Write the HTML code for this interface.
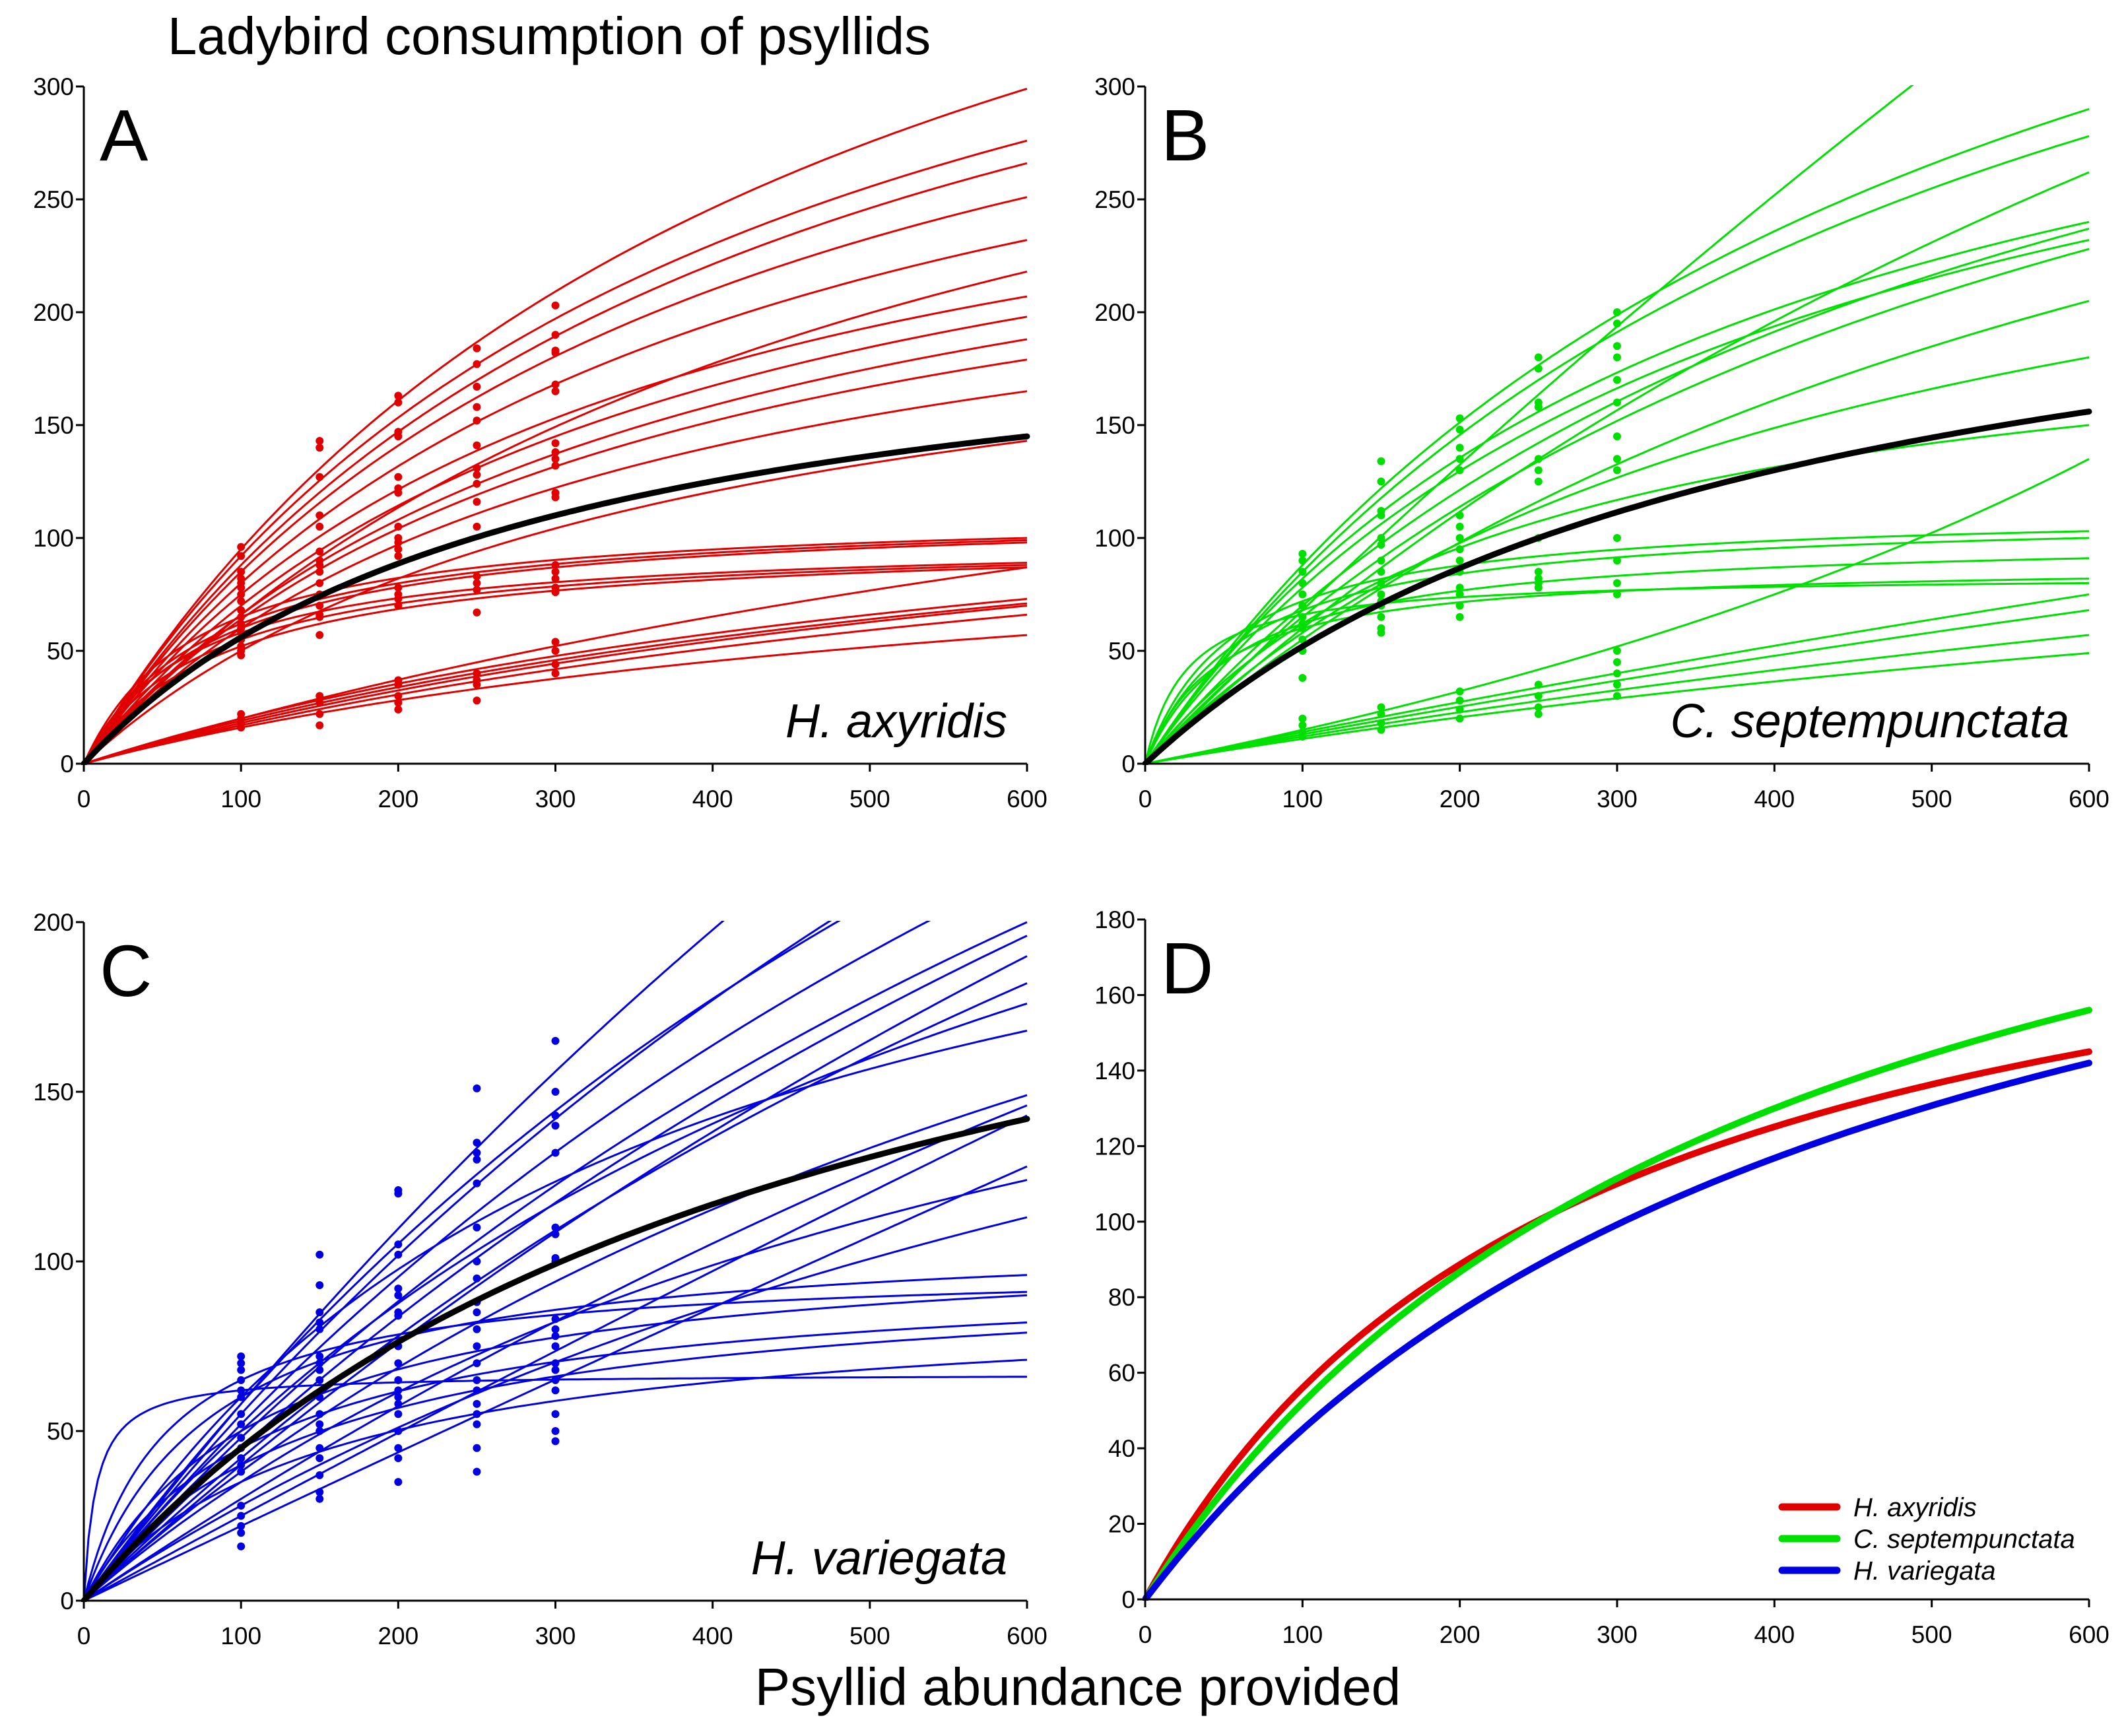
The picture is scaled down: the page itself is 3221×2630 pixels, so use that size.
<!DOCTYPE html>
<html><head><meta charset="utf-8"><style>
html,body{margin:0;padding:0;background:#fff}
svg{display:block}
text{font-family:"Liberation Sans",Arial,sans-serif;fill:#000}
</style></head><body>
<svg id="fig" width="3221" height="2630" viewBox="0 0 3221 2630" xmlns="http://www.w3.org/2000/svg">
<rect width="3221" height="2630" fill="#fff"/>
<text x="832" y="82" font-size="80" text-anchor="middle">Ladybird consumption of psyllids</text>
<text x="1633" y="2583" font-size="80" text-anchor="middle">Psyllid abundance provided</text>
</svg>
<script>
// Curves given as [consumption at 100, consumption at 600]
const curvesA = [[95,299],[92,276],[88,266],[85,251],[80,232],[66,218],[75,207],[70,198],[66,188],[64,179],[60,165],[50,143],[65,100],[62,99],[60,98],[58,89],[55,88],[52,87],[20,87],[20,73],[19,71],[18,70],[17,66],[16,57]];
const meanA = [56,145];
const curvesB = [[68,360],[88,290],[85,278],[60,262],[82,240],[70,237],[78,232],[65,228],[55,205],[58,180],[62,150],[15,135],[72,103],[68,100],[62,91],[60,82],[66,80],[14,75],[13,68],[12,57],[11,49]];
const meanB = [52,156];
const curvesC = [[58,270],[55,235],[58,230],[52,215],[48,200],[45,196],[40,190],[42,182],[50,176],[60,168],[38,149],[30,146],[25,143],[22,128],[35,124],[28,113],[60,96],[65,91],[50,90],[45,82],[40,79],[35,71],[62,66]];
const meanC = [45,142];
const dotX = [100,150,200,250,300];
const dotsA = [
 [96,92,85,82,80,78,75,72,68,65,62,60,58,55,52,50,48,22,20,18,16],
 [143,140,127,110,105,94,90,88,85,80,75,70,66,65,57,30,27,22,17],
 [163,160,147,145,127,122,120,105,100,98,95,92,78,75,73,70,37,35,30,27,24],
 [184,177,167,158,152,141,131,128,124,116,105,83,80,77,67,40,37,35,28],
 [203,190,183,182,168,165,142,138,135,132,120,118,88,85,82,78,76,54,50,44,40]];
const dotsB = [
 [93,90,85,80,75,70,65,62,60,55,50,38,20,17,14,12],
 [134,125,112,110,100,97,90,85,80,75,72,70,65,60,58,25,22,18,15],
 [153,148,140,135,130,110,105,100,95,90,85,78,75,70,65,32,28,24,20],
 [180,175,160,158,135,130,125,100,85,82,80,78,35,30,25,22],
 [200,195,185,180,170,160,145,135,130,100,90,80,75,50,45,40,35,30]];
const dotsC = [
 [72,70,68,65,62,60,55,52,48,45,42,40,38,28,25,22,20,16],
 [102,93,85,82,80,72,70,68,65,60,55,52,50,45,42,37,32,30],
 [121,120,105,102,92,90,85,84,75,70,65,62,60,58,55,50,45,42,35],
 [151,135,132,130,123,110,100,95,88,85,80,75,70,65,62,58,55,52,45,38],
 [165,150,143,140,132,110,108,101,100,83,80,78,75,70,68,65,62,55,50,47]];
const meansD = [[56,145],[52,156],[45,142]];
const legendLabels = ["H. axyridis","C. septempunctata","H. variegata"];
const xTicks = [0,100,200,300,400,500,600];
const yTicksA = [0,50,100,150,200,250,300];
const yTicksC = [0,50,100,150,200];
const yTicksD = [0,20,40,60,80,100,120,140,160,180];

const NS="http://www.w3.org/2000/svg";
const svg=document.getElementById('fig');
function mk(tag,attrs,parent){const e=document.createElementNS(NS,tag);for(const k in attrs)e.setAttribute(k,attrs[k]);(parent||svg).appendChild(e);return e;}

function holling(p){ // returns function x->y through (100,p0),(600,p1)
  const inv=(1/p[0]-1/p[1])/(1/100-1/600); const h=1/p[0]-inv/100;
  return x=> x/(inv+h*x);
}

function panel(id,x0,x1,yb,yt,ymax,yTicks,letter,species,color,curves,mean,dots){
  const g=mk('g',{});
  
  
  const sx=v=>x0+(x1-x0)*v/600, sy=v=>yb-(yb-yt)*v/ymax;
  const cp=mk('clipPath',{id:'clip'+id},g);
  mk('rect',{x:x0-4,y:yt-2,width:x1-x0+10,height:yb-yt+4},cp);
  const plot=mk('g',{'clip-path':'url(#clip'+id+')'},g);
  function curvePath(f){let d='';for(let x=0;x<=600;x+=3){d+=(x?'L':'M')+sx(x).toFixed(1)+' '+sy(f(x)).toFixed(1);}return d;}
  if(dots){dots.forEach((arr,i)=>arr.forEach(v=>{
    const c=mk('circle',{cx:sx(dotX[i]),cy:sy(v),r:6,fill:color},plot);
    
    
  }));}
  if(curves){curves.forEach(p=>{
    const e=mk('path',{d:curvePath(holling(p)),fill:'none',stroke:color,'stroke-width':3},plot);
    
    
  });}
  if(mean){
    const e=mk('path',{d:curvePath(holling(mean)),fill:'none',stroke:'#000','stroke-width':9,'stroke-linecap':'round'},plot);
    
    
  }
  if(id==='D'){
    const cols=['#e00000','#00e000','#0000e0'];
    meansD.forEach((p,i)=>{
      const e=mk('path',{d:curvePath(holling(p)),fill:'none',stroke:cols[i],'stroke-width':10,'stroke-linecap':'round'},plot);
      
      
      const l=mk('line',{x1:2700,x2:2783,y1:2283+i*48,y2:2283+i*48,stroke:cols[i],'stroke-width':11,'stroke-linecap':'round'});
      
      
      const t=mk('text',{x:2808,y:2297+i*48,'font-size':40,'font-style':'italic'});
      t.textContent=legendLabels[i];
      
      
    });
  }
  // axes
  const ax=mk('path',{d:`M${x0} ${yt}V${yb}H${x1}`,fill:'none',stroke:'#000','stroke-width':3},g);
  
  
  xTicks.forEach(v=>{
    mk('line',{x1:sx(v),x2:sx(v),y1:yb,y2:yb+12,stroke:'#000','stroke-width':3},g);
    const t=mk('text',{x:sx(v),y:yb+66,'font-size':37,'text-anchor':'middle'},g);
    t.textContent=v;
    
    
  });
  yTicks.forEach(v=>{
    mk('line',{x1:x0-12,x2:x0,y1:sy(v),y2:sy(v),stroke:'#000','stroke-width':3},g);
    const t=mk('text',{x:x0-15,y:sy(v)+13,'font-size':37,'text-anchor':'end'},g);
    t.textContent=v;
    
    
  });
  const L=mk('text',{x:x0+24,y:yt+112,'font-size':110},g);
  L.textContent=letter;
  
  
  if(species){
    const s=mk('text',{x:x1-30,y:yb-40,'font-size':72,'font-style':'italic','text-anchor':'end'},g);
    s.textContent=species;
    
    
  }
}
panel('A',127,1556,1157,131,300,yTicksA,'A','H. axyridis','#e00000',curvesA,meanA,dotsA);
panel('B',1735,3165,1157,131,300,yTicksA,'B','C. septempunctata','#00e000',curvesB,meanB,dotsB);
panel('C',127,1556,2425,1397,200,yTicksC,'C','H. variegata','#0000e0',curvesC,meanC,dotsC);
panel('D',1735,3165,2423,1393,180,yTicksD,'D',null,null,null,null,null);
</script>
</body></html>
